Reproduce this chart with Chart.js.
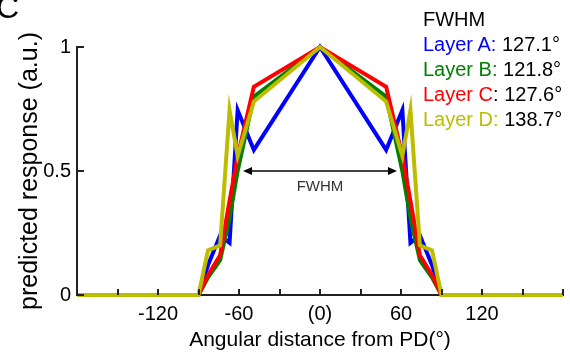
<!DOCTYPE html>
<html>
<head>
<meta charset="utf-8">
<script src="https://cdn.jsdelivr.net/npm/chart.js@4/dist/chart.umd.min.js"></script>
<style>
  html, body { margin: 0; padding: 0; background: #fff; }
  #wrap { position: relative; width: 570px; height: 353px; overflow: hidden; font-family: "Liberation Sans", Arial, sans-serif; }
  #chart { position: absolute; left: 0; top: 0; }
  #panel { position: absolute; left: -4px; top: -9px; font-size: 32px; line-height: 32px; color: #000; }
  #legend { position: absolute; left: 423px; top: 7px; font-size: 20px; line-height: 25px; color: #000; white-space: nowrap; }
</style>
</head>
<body>
<div id="wrap">
  <canvas id="chart" width="570" height="353"></canvas>
  <div id="panel">C</div>
  <div id="legend"></div>
</div>
<script>
(function () {
  'use strict';

  // angle from preferred direction (deg)
  var angles = [-180, -90, -83, -74, -67, -61, -49, 0, 49, 61, 67, 74, 83, 90, 180];
  var layerA = [0, 0, 0.12, 0.24, 0.21, 0.745, 0.585, 1, 0.585, 0.745, 0.21, 0.24, 0.12, 0, 0];
  var layerB = [0, 0, 0.07, 0.14, 0.31, 0.50, 0.80, 1, 0.80, 0.50, 0.31, 0.14, 0.07, 0, 0];
  var layerC = [0, 0, 0.08, 0.16, 0.38, 0.56, 0.84, 1, 0.84, 0.56, 0.38, 0.16, 0.08, 0, 0];
  var layerD = [0, 0, 0.18, 0.20, 0.745, 0.56, 0.78, 1, 0.78, 0.56, 0.745, 0.20, 0.18, 0, 0];

  var layerNames = ['Layer A', 'Layer B', 'Layer C', 'Layer D'];
  var layerFwhm = ['127.1°', '121.8°', '127.6°', '138.7°'];
  var layerColors = ['#0000ff', '#008000', '#ff0000', '#bdbd00'];
  var colonColors = ['#0000ff', '#008000', '#000000', '#bdbd00'];

  var xTickValues = [-120, -60, 0, 60, 120];
  var xTickText = ['-120', '-60', '(0)', '60', '120'];
  var yTickValues = [0, 0.5, 1];
  var yTickText = ['0', '0.5', '1'];

  var fwhmArrow = [-57, 57];

  function series(values) {
    return angles.map(function (a, i) { return { x: a, y: values[i] }; });
  }

  // legend text
  var legend = document.getElementById('legend');
  var html = '<div>FWHM</div>';
  layerNames.forEach(function (name, i) {
    html += '<div><span style="color:' + layerColors[i] + '">' + name + '</span>' +
      '<span style="color:' + colonColors[i] + '">:</span> ' + layerFwhm[i] + '</div>';
  });
  legend.innerHTML = html;

  var inwardTicks = {
    id: 'inwardTicks',
    afterDraw: function (chart) {
      var ctx = chart.ctx;
      var xs = chart.scales.x;
      var ys = chart.scales.y;
      var area = chart.chartArea;
      ctx.save();
      ctx.strokeStyle = '#222';
      ctx.lineWidth = 2;
      ctx.beginPath();
      for (var v = -180; v <= 180; v += 30) {
        var px = Math.round(xs.getPixelForValue(v));
        ctx.moveTo(px, area.bottom);
        ctx.lineTo(px, area.bottom - 6);
      }
      yTickValues.forEach(function (v) {
        var py = Math.round(ys.getPixelForValue(v));
        ctx.moveTo(area.left, py);
        ctx.lineTo(area.left + 7, py);
      });
      ctx.stroke();
      ctx.restore();
    }
  };

  var fwhmPlugin = {
    id: 'fwhm',
    afterDatasetsDraw: function (chart) {
      var ctx = chart.ctx;
      var xs = chart.scales.x;
      var ys = chart.scales.y;
      var x1 = xs.getPixelForValue(fwhmArrow[0]);
      var x2 = xs.getPixelForValue(fwhmArrow[1]);
      var y = ys.getPixelForValue(0.5);
      ctx.save();
      ctx.strokeStyle = '#000';
      ctx.fillStyle = '#000';
      ctx.lineWidth = 1.5;
      ctx.beginPath();
      ctx.moveTo(x1 + 4, y);
      ctx.lineTo(x2 - 4, y);
      ctx.stroke();
      ctx.beginPath();
      ctx.moveTo(x1, y);
      ctx.lineTo(x1 + 9, y - 4);
      ctx.lineTo(x1 + 9, y + 4);
      ctx.closePath();
      ctx.fill();
      ctx.beginPath();
      ctx.moveTo(x2, y);
      ctx.lineTo(x2 - 9, y - 4);
      ctx.lineTo(x2 - 9, y + 4);
      ctx.closePath();
      ctx.fill();
      ctx.fillStyle = '#333';
      ctx.font = '15px "Liberation Sans", Arial, sans-serif';
      ctx.textAlign = 'center';
      ctx.textBaseline = 'middle';
      ctx.fillText('FWHM', (x1 + x2) / 2, y + 16);
      ctx.restore();
    }
  };

  var datasets = [layerA, layerB, layerC, layerD].map(function (vals, i) {
    return {
      label: layerNames[i],
      data: series(vals),
      borderColor: layerColors[i],
      backgroundColor: layerColors[i],
      borderWidth: 4,
      pointRadius: 0,
      tension: 0,
      clip: false,
      order: 4 - i
    };
  });

  var ctx = document.getElementById('chart').getContext('2d');
  new Chart(ctx, {
    type: 'line',
    data: { datasets: datasets },
    plugins: [inwardTicks, fwhmPlugin],
    options: {
      responsive: false,
      animation: false,
      layout: { padding: { top: 47, right: 7, left: 0, bottom: 0 } },
      plugins: { legend: { display: false }, tooltip: { enabled: false } },
      scales: {
        x: {
          type: 'linear',
          min: -180,
          max: 180,
          afterFit: function (s) { s.height = 58; },
          afterBuildTicks: function (s) {
            s.ticks = xTickValues.map(function (v) { return { value: v }; });
          },
          grid: { display: false, drawTicks: false },
          border: { display: true, color: '#222', width: 2 },
          ticks: {
            autoSkip: false,
            maxRotation: 0,
            padding: 7,
            color: '#000',
            font: { family: '"Liberation Sans", Arial, sans-serif', size: 20 },
            callback: function (v) {
              var i = xTickValues.indexOf(v);
              return i >= 0 ? xTickText[i] : '';
            }
          },
          title: {
            display: true,
            text: 'Angular distance from PD(°)',
            color: '#000',
            padding: { top: 0, bottom: 0 },
            font: { family: '"Liberation Sans", Arial, sans-serif', size: 21 }
          }
        },
        y: {
          type: 'linear',
          min: 0,
          max: 1,
          afterFit: function (s) { s.width = 77; },
          afterBuildTicks: function (s) {
            s.ticks = yTickValues.map(function (v) { return { value: v }; });
          },
          grid: { display: false, drawTicks: false },
          border: { display: true, color: '#222', width: 2 },
          ticks: {
            padding: 6,
            color: '#000',
            font: { family: '"Liberation Sans", Arial, sans-serif', size: 20 },
            callback: function (v) {
              var i = yTickValues.indexOf(v);
              return i >= 0 ? yTickText[i] : '';
            }
          },
          title: {
            display: true,
            text: 'predicted response (a.u.)',
            color: '#000',
            padding: { top: 15, bottom: 0 },
            font: { family: '"Liberation Sans", Arial, sans-serif', size: 25 }
          }
        }
      }
    }
  });
})();
</script>
</body>
</html>
